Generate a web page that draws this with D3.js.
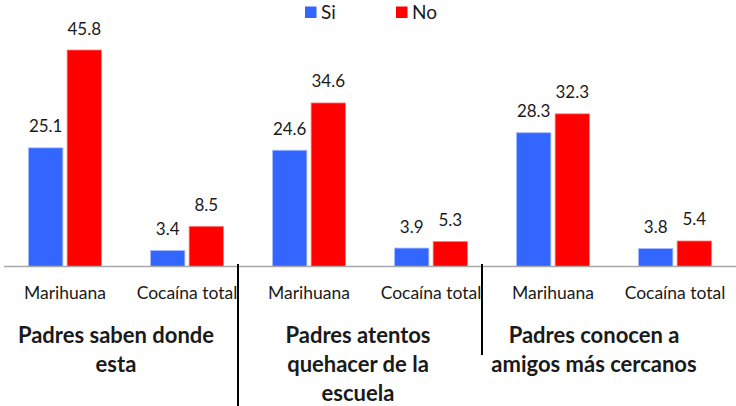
<!DOCTYPE html>
<html>
<head>
<meta charset="utf-8">
<script src="https://cdn.jsdelivr.net/npm/d3@7"></script>
<style>
  body { margin: 0; background: #fff; }
  svg text { font-family: Lato, "Open Sans", sans-serif; fill: #1a1a1a; }
</style>
</head>
<body>
<div id="chart"></div>
<script>
// chart data
var categories = ["Marihuana", "Cocaína total", "Marihuana", "Cocaína total", "Marihuana", "Cocaína total"];
var siValues = [25.1, 3.4, 24.6, 3.9, 28.3, 3.8];
var noValues = [45.8, 8.5, 34.6, 5.3, 32.3, 5.4];
var seriesNames = ["Si", "No"];
var groupTitles = [
    ["Padres saben donde", "esta"],
    ["Padres atentos", "quehacer de la", "escuela"],
    ["Padres conocen a", "amigos más cercanos"]
];

var svgWidth = 736;
var svgHeight = 406;
var baseline = 266.5;
var colors = { "Si": "#3366ff", "No": "#ff0000" };
var strokes = { "Si": "#a9bfff", "No": "#ff8080" };

var svg = d3.select("#chart").append("svg")
    .attr("width", svgWidth)
    .attr("height", svgHeight);

// x scale over the six categories
var xScale = d3.scaleBand()
    .domain(d3.range(categories.length))
    .range([4, 736])
    .paddingInner(0)
    .paddingOuter(0);

var xSub = d3.scaleBand()
    .domain(seriesNames)
    .range([24.5, 97.5])
    .paddingInner(0.11);

var yScale = d3.scaleLinear()
    .domain([0, 45.8])
    .range([baseline, 50]);

var rows = categories.map(function (c, i) {
    return { cat: c, i: i, values: [
        { key: "Si", value: siValues[i] },
        { key: "No", value: noValues[i] }
    ]};
});

var catGroups = svg.selectAll(".cat")
    .data(rows)
    .enter()
    .append("g")
    .attr("transform", d => `translate(${xScale(d.i)}, 0)`);

catGroups.selectAll("rect")
    .data(d => d.values)
    .enter()
    .append("rect")
    .attr("x", d => xSub(d.key))
    .attr("y", d => yScale(d.value))
    .attr("width", xSub.bandwidth())
    .attr("height", d => baseline - yScale(d.value))
    .attr("fill", d => colors[d.key])
    .attr("stroke", d => strokes[d.key])
    .attr("stroke-width", 0.8);

// value labels
catGroups.selectAll(".val")
    .data(d => d.values)
    .enter()
    .append("text")
    .attr("x", d => xSub(d.key) + xSub.bandwidth() / 2)
    .attr("y", d => yScale(d.value) - 15.5)
    .attr("text-anchor", "middle")
    .attr("font-size", "17px")
    .text(d => d.value.toFixed(1));

// baseline axis
svg.append("line")
    .attr("x1", 4)
    .attr("x2", 736)
    .attr("y1", baseline)
    .attr("y2", baseline)
    .attr("stroke", "#a6a6a6")
    .attr("stroke-width", 1.5);

// category labels
catGroups.append("text")
    .attr("x", xScale.bandwidth() / 2)
    .attr("y", 298.5)
    .attr("text-anchor", "middle")
    .attr("font-size", "17.5px")
    .text(d => d.cat);

// separators between groups
var sepBottoms = [406, 355];
[2, 4].forEach(function (k, j) {
    svg.append("line")
        .attr("x1", xScale(k) - 10)
        .attr("x2", xScale(k) - 10)
        .attr("y1", 264)
        .attr("y2", sepBottoms[j])
        .attr("stroke", "#000")
        .attr("stroke-width", 2);
});

// group titles
var titleCenters = [116, 358, 594];
groupTitles.forEach(function (lines, g) {
    var t = svg.append("text")
        .attr("text-anchor", "middle")
        .attr("font-size", "22px")
        .attr("font-weight", "bold");
    lines.forEach(function (line, k) {
        t.append("tspan")
            .attr("x", titleCenters[g])
            .attr("y", 342.5 + k * 29)
            .text(line);
    });
});

// legend
var legend = svg.append("g");
var legendX = [305, 396];
seriesNames.forEach(function (name, i) {
    legend.append("rect")
        .attr("x", legendX[i])
        .attr("y", 6.5)
        .attr("width", 11.5)
        .attr("height", 11.5)
        .attr("fill", colors[name]);
    legend.append("text")
        .attr("x", legendX[i] + 16)
        .attr("y", 18.5)
        .attr("font-size", "19px")
        .text(name);
});
</script>
</body>
</html>
